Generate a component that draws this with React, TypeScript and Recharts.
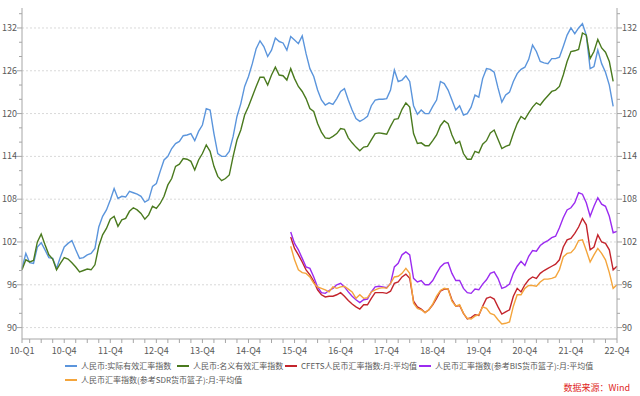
import { LineChart, Line, XAxis, YAxis, CartesianGrid } from 'recharts';

// monthly, 2010-01 .. 2022-12
const months: string[] = [];
for (let y = 2010; y <= 2022; y++) {
  for (let m = 1; m <= 12; m++) months.push(`${y}-${String(m).padStart(2, '0')}`);
}

const labelMonths = ['2010-01', '2010-12', '2011-12', '2012-12', '2013-12', '2014-12', '2015-12', '2016-12', '2017-12', '2018-12', '2019-12', '2020-12', '2021-12', '2022-12'];
const labelTexts = ['10-Q1', '10-Q4', '11-Q4', '12-Q4', '13-Q4', '14-Q4', '15-Q4', '16-Q4', '17-Q4', '18-Q4', '19-Q4', '20-Q4', '21-Q4', '22-Q4'];

const yMajor = [90, 96, 102, 108, 114, 120, 126, 132];
const yTicks = [90, 92, 94, 96, 98, 100, 102, 104, 106, 108, 110, 112, 114, 116, 118, 120, 122, 124, 126, 128, 130, 132, 134];

// 人民币:实际有效汇率指数 (2010-01 .. 2022-11)
const realEffective = [
  98.3, 100.4, 99.1, 99.0, 101.3, 101.9, 100.9, 99.8, 99.7, 98.3, 99.9, 101.3,
  101.8, 102.2, 100.9, 99.7, 99.8, 100.2, 100.4, 101.1, 104.1, 105.6, 106.5, 107.9,
  109.5, 108.1, 108.4, 108.3, 109.1, 108.9, 108.7, 108.4, 107.6, 107.9, 109.8, 110.2,
  111.9, 113.5, 114.0, 115.1, 115.8, 116.1, 116.9, 117.0, 117.2, 116.2, 117.5, 118.4,
  120.7, 120.5, 117.2, 114.4, 114.0, 114.0, 114.7, 116.8, 119.6, 121.4, 123.8, 125.2,
  127.0, 129.1, 130.2, 129.4, 128.0, 128.9, 130.6, 130.1, 129.9, 128.9, 130.8, 130.3,
  129.8, 130.9, 128.4, 126.3, 125.2, 123.3, 121.9, 121.2, 121.5, 121.3, 122.1, 123.1,
  123.5, 121.9, 120.5, 119.3, 118.9, 119.2, 119.6, 121.1, 121.9, 122.0, 122.0, 122.1,
  123.3, 126.1, 124.5, 124.7, 125.3, 124.5, 121.1, 119.9, 120.5, 120.0, 120.0, 121.0,
  121.9, 124.5, 124.2, 123.3, 121.9, 120.5, 121.1, 119.8, 120.0, 120.9, 122.6, 122.3,
  124.9, 126.3, 126.2, 125.8, 123.6, 121.6, 122.6, 123.0, 124.5, 125.6, 126.2, 126.5,
  127.6, 129.6, 128.7, 127.3, 127.1, 127.0, 127.7, 127.7, 127.9, 129.4, 131.0, 132.0,
  131.2, 132.0, 132.6, 131.0, 126.3, 126.6, 128.9, 127.0, 125.8, 124.0, 121.0,
];

// 人民币:名义有效汇率指数 (2010-01 .. 2022-11)
const nominalEffective = [
  98.1, 99.5, 99.2, 99.4, 102.0, 103.1, 101.6, 100.2, 99.6, 98.1, 99.0, 99.8,
  99.6, 99.1, 98.5, 97.8, 98.0, 98.2, 98.1, 98.8, 101.4, 103.0, 103.9, 105.2,
  105.6, 104.2, 105.1, 105.3, 106.3, 106.8, 106.5, 106.0, 105.2, 105.8, 107.0, 106.7,
  107.4, 108.4, 110.0, 110.9, 112.6, 112.9, 113.7, 113.6, 113.3, 112.1, 113.5, 114.4,
  115.6, 114.7, 112.6, 111.2, 110.6, 110.9, 111.4, 114.0, 116.3, 117.7, 119.8, 121.0,
  122.4, 123.8, 125.1, 125.1, 124.0, 125.4, 126.5, 125.4, 125.3, 124.7, 126.3, 124.9,
  123.8, 123.1, 122.1, 120.7, 120.3, 118.6, 117.4, 116.6, 116.5, 116.8, 117.2, 117.9,
  117.8, 116.6, 115.9, 115.3, 114.8, 115.3, 115.4, 116.3, 117.2, 117.3, 117.2, 117.1,
  118.2, 119.2, 119.3, 120.6, 121.5, 120.9, 117.2, 115.8, 115.9, 115.5, 115.5, 116.2,
  117.0, 118.3, 119.0, 118.6, 117.0, 115.8, 116.1, 114.4, 113.6, 113.6, 114.7, 114.5,
  115.7, 116.2, 117.3, 117.7, 116.4, 115.1, 115.4, 115.6, 117.2, 118.6, 119.6, 119.2,
  120.1, 120.9, 121.5, 121.2, 121.9, 122.5, 123.1, 123.3, 123.8, 125.4, 127.3, 128.7,
  128.8, 129.0, 131.3, 131.0, 127.7, 128.7, 130.4, 129.2, 128.6, 127.3, 124.5,
];

// the three CFETS-published baskets start 2015-11
const basketStart = '2015-11';

// CFETS人民币汇率指数:月:平均值
const cfets = [
  102.7, 101.1,
  100.2, 99.2, 98.1, 97.4, 96.5, 95.3, 94.6, 94.3, 94.4, 94.4, 94.6, 94.9,
  94.4, 93.8, 93.3, 92.9, 92.6, 93.2, 93.2, 94.1, 94.9, 94.9, 94.9, 94.8,
  95.1, 96.2, 96.4, 97.1, 97.5, 96.9, 93.7, 92.9, 92.6, 92.1, 92.5, 93.2,
  94.1, 95.1, 95.4, 95.4, 93.9, 93.0, 93.1, 92.0, 91.2, 91.4, 91.8, 91.7,
  93.0, 94.1, 94.3, 94.0, 92.9, 91.9, 92.2, 92.5, 94.4, 95.5, 95.0, 96.0,
  96.7, 97.1, 96.9, 97.6, 98.0, 98.3, 98.6, 98.9, 99.5, 101.3, 102.3, 102.5,
  103.2, 104.1, 105.3, 104.4, 100.9, 101.3, 103.0, 102.0, 101.8, 100.9, 98.1, 98.6,
];

// 人民币汇率指数(参考BIS货币篮子):月:平均值
const bisBasket = [
  103.4, 101.8,
  100.9, 99.7, 98.5, 98.3, 97.1, 95.7, 94.9, 94.8, 95.2, 95.5, 96.0, 96.2,
  95.7, 95.0, 94.4, 93.9, 93.5, 93.9, 94.0, 95.0, 95.7, 95.8, 95.7, 95.6,
  96.2, 98.5, 99.0, 100.2, 100.6, 100.2, 96.9, 96.4, 96.6, 96.0, 96.0, 96.6,
  97.6, 98.5, 99.0, 99.1, 97.6, 96.6, 96.6, 95.5, 94.9, 94.8, 95.4, 95.3,
  96.1, 96.7, 97.6, 97.8, 96.9, 95.5, 95.7, 96.1, 97.6, 98.6, 99.3, 98.7,
  100.0, 100.8, 100.7, 101.5, 101.9, 102.2, 102.6, 102.8, 104.0, 105.4, 106.5, 106.8,
  107.5, 108.9, 108.7, 107.5, 105.6, 107.0, 108.2, 107.3, 107.0, 105.6, 103.3, 103.5,
];

// 人民币汇率指数(参考SDR货币篮子):月:平均值
const sdrBasket = [
  101.4, 99.5,
  98.1, 97.7, 97.6, 97.1, 96.2, 95.7, 95.5, 95.3, 95.0, 95.7, 95.5, 95.7,
  95.8, 95.4, 95.0, 94.1, 94.6, 94.1, 94.2, 95.0, 95.3, 95.5, 95.6, 95.5,
  96.2, 97.1, 97.2, 97.6, 98.3, 97.6, 93.4, 92.7, 92.5, 92.1, 92.5, 93.3,
  94.4, 95.2, 95.5, 95.4, 93.7, 93.0, 93.2, 92.0, 91.3, 91.2, 91.6, 91.8,
  92.9, 92.7, 92.0, 91.8, 91.1, 90.5, 90.6, 90.8, 93.0, 94.6, 94.6, 95.5,
  95.9, 95.9, 95.8, 96.4, 96.8, 96.8, 96.9, 97.1, 98.1, 99.9, 100.4, 100.5,
  101.1, 102.2, 102.3, 100.8, 99.2, 100.2, 101.1, 100.4, 99.5, 97.7, 95.5, 96.0,
];

const seriesKeys = ['reer', 'neer', 'cfets', 'bis', 'sdr'];
const seriesNames = [
  '人民币:实际有效汇率指数',
  '人民币:名义有效汇率指数',
  'CFETS人民币汇率指数:月:平均值',
  '人民币汇率指数(参考BIS货币篮子):月:平均值',
  '人民币汇率指数(参考SDR货币篮子):月:平均值',
];
const seriesColors = ['#5b95dc', '#4a7a1e', '#c3242c', '#9b2bf0', '#f4a53c'];

const startIdx = months.indexOf(basketStart);
const pick = (arr: number[], i: number, from = 0) =>
  i >= from && i - from < arr.length ? arr[i - from] : null;

const data = months.map((month, i) => ({
  month,
  reer: pick(realEffective, i),
  neer: pick(nominalEffective, i),
  cfets: pick(cfets, i, startIdx),
  bis: pick(bisBasket, i, startIdx),
  sdr: pick(sdrBasket, i, startIdx),
}));

const xTicks = months.filter((_, i) => i === 0 || i % 3 === 2);

const FONT = '"Noto Sans CJK SC", "Noto Sans", sans-serif';
const AXIS = '#a6a6a6';
const TEXT = '#595959';

const XTick = ({ x, y, payload }: any) => {
  const k = labelMonths.indexOf(payload.value);
  return (
    <g>
      <line x1={x} x2={x} y1={y} y2={y + 4} stroke={AXIS} />
      {k >= 0 && (
        <text x={x} y={y + 15} textAnchor="middle" fontSize={9} fill={TEXT} fontFamily={FONT}>
          {labelTexts[k]}
        </text>
      )}
    </g>
  );
};

const YTick = ({ x, y, payload, side }: any) => {
  const major = yMajor.includes(payload.value);
  const dir = side === 'left' ? -1 : 1;
  const len = major ? 5 : 3;
  return (
    <g>
      <line x1={x} x2={x + dir * len} y1={y} y2={y} stroke={AXIS} />
      {major && (
        <text
          x={x + dir * 5}
          y={y + 3}
          textAnchor={side === 'left' ? 'end' : 'start'}
          fontSize={9}
          fill={TEXT}
          fontFamily={FONT}
        >
          {payload.value}
        </text>
      )}
    </g>
  );
};

// legend rows: [series index, left px]
const legendRow1 = [[0, 65], [1, 177], [2, 285], [3, 419]];
const legendRow2 = [[4, 65]];

const LegendItem = ({ i, left, top }: { i: number; left: number; top: number }) => (
  <div style={{ position: 'absolute', left, top, display: 'flex', alignItems: 'center', whiteSpace: 'nowrap' }}>
    <span style={{ width: 12, height: 2, background: seriesColors[i], marginRight: 4, flexShrink: 0 }} />
    <span>{seriesNames[i]}</span>
  </div>
);

const App = () => {
  return (
    <div style={{ position: 'absolute', left: 0, top: 0, width: 640, height: 396, background: '#fff', fontFamily: FONT }}>
      <LineChart width={640} height={396} data={data} margin={{ top: 8, right: 0, bottom: 37, left: 0 }}>
        <CartesianGrid
          yAxisId="left"
          vertical={false}
          horizontalValues={yMajor}
          stroke="#d9d9d9"
          strokeDasharray="2 2"
        />
        <XAxis
          dataKey="month"
          ticks={xTicks}
          interval={0}
          tickSize={0}
          tickMargin={0}
          tickLine={false}
          height={20}
          stroke={AXIS}
          tick={<XTick />}
        />
        <YAxis
          yAxisId="left"
          orientation="left"
          width={22}
          domain={[88.4, 134.8]}
          ticks={yTicks}
          interval={0}
          allowDataOverflow
          tickSize={0}
          tickMargin={0}
          tickLine={false}
          stroke={AXIS}
          tick={<YTick side="left" />}
        />
        <YAxis
          yAxisId="right"
          orientation="right"
          width={23}
          domain={[88.4, 134.8]}
          ticks={yTicks}
          interval={0}
          allowDataOverflow
          tickSize={0}
          tickMargin={0}
          tickLine={false}
          stroke={AXIS}
          tick={<YTick side="right" />}
        />
        {seriesKeys.map((key, i) => (
          <Line
            key={key}
            yAxisId="left"
            type="linear"
            dataKey={key}
            name={seriesNames[i]}
            stroke={seriesColors[i]}
            strokeWidth={1.4}
            dot={false}
            activeDot={false}
            isAnimationActive={false}
          />
        ))}
      </LineChart>
      <div style={{ position: 'absolute', left: 0, top: 0, width: 640, height: 396, fontSize: 8, color: TEXT, lineHeight: '12px', pointerEvents: 'none' }}>
        {legendRow1.map(([i, left]) => (
          <LegendItem key={i} i={i} left={left} top={360} />
        ))}
        {legendRow2.map(([i, left]) => (
          <LegendItem key={i} i={i} left={left} top={374} />
        ))}
        <div style={{ position: 'absolute', right: 10, top: 382, fontSize: 9, color: '#e0261e', whiteSpace: 'nowrap' }}>
          数据来源：Wind
        </div>
      </div>
    </div>
  );
};

export default App;
